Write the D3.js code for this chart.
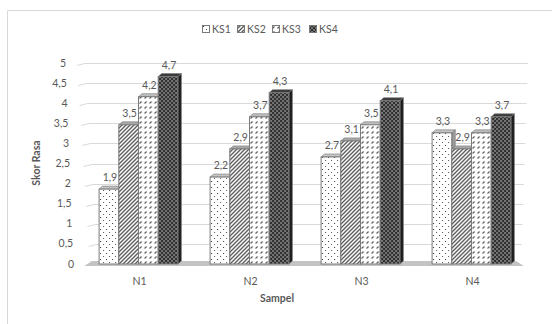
<!DOCTYPE html>
<html>
<head>
<meta charset="utf-8">
<script src="https://cdn.jsdelivr.net/npm/d3@7/dist/d3.min.js"></script>
<style>
  html, body { margin: 0; padding: 0; background: #fff; }
  svg { display: block; font-family: Lato, "Open Sans", sans-serif; }
</style>
</head>
<body>
<svg id="chart" width="552" height="324"></svg>
<script>
// Sensory scores (Skor Rasa) per sample and panel series
const categories = ["N1", "N2", "N3", "N4"];
const seriesNames = ["KS1", "KS2", "KS3", "KS4"];
const ks1 = [1.9, 2.2, 2.7, 3.3];
const ks2 = [3.5, 2.9, 3.1, 2.9];
const ks3 = [4.2, 3.7, 3.5, 3.3];
const ks4 = [4.7, 4.3, 4.1, 3.7];
const yTicks = [0, 0.5, 1, 1.5, 2, 2.5, 3, 3.5, 4, 4.5, 5];

const seriesValues = [ks1, ks2, ks3, ks4];
const rows = categories.map((c, i) => ({
  cat: c,
  values: seriesNames.map((s, j) => ({ key: s, idx: j, value: seriesValues[j][i] }))
}));

const svg = d3.select("#chart");
const fmt = d3.formatLocale({ decimal: ",", thousands: ".", grouping: [3], currency: ["", ""] }).format("~g");

const x0 = d3.scaleBand().domain(categories).range([83, 527]).paddingInner(0.29).paddingOuter(0.145);
const x1 = d3.scaleBand().domain(seriesNames).range([0, x0.bandwidth()]).padding(0);
const y = d3.scaleLinear().domain([0, 5]).range([264, 63]);

// chart area frame
svg.append("path").attr("d", "M7.5,324 V10.5 H552").attr("fill", "none").attr("stroke", "#d9d9d9");

// fill patterns
const defs = svg.append("defs");
function pat(id, w, h, build) {
  const p = defs.append("pattern").attr("id", id).attr("patternUnits", "userSpaceOnUse")
    .attr("width", w).attr("height", h);
  build(p);
}
pat("p1", 6, 6, p => {
  p.append("rect").attr("width", 6).attr("height", 6).attr("fill", "#fff");
  p.append("rect").attr("x", 1).attr("y", 1).attr("width", 1).attr("height", 1).attr("fill", "#333");
  p.append("rect").attr("x", 4).attr("y", 4).attr("width", 1).attr("height", 1).attr("fill", "#555");
});
pat("p2", 4, 4, p => {
  p.append("rect").attr("width", 4).attr("height", 4).attr("fill", "#fff");
  p.append("path").attr("d", "M-1,1 L1,-1 M0,4 L4,0 M3,5 L5,3").attr("stroke", "#555").attr("stroke-width", 1.3);
});
pat("p3", 5, 5, p => {
  p.append("rect").attr("width", 5).attr("height", 5).attr("fill", "#fff");
  p.append("path").attr("d", "M0.5,3.5 L2.5,1.5").attr("stroke", "#555").attr("stroke-width", 1.1);
});
pat("p4", 4, 4, p => {
  p.append("rect").attr("width", 4).attr("height", 4).attr("fill", "#2e2e2e");
  p.append("circle").attr("cx", 1).attr("cy", 1).attr("r", 0.9).attr("fill", "#9a9a9a");
  p.append("circle").attr("cx", 3).attr("cy", 3).attr("r", 0.9).attr("fill", "#9a9a9a");
});
const fills = ["url(#p1)", "url(#p2)", "url(#p3)", "url(#p4)"];
const topFills = ["#c4c4c4", "#a8a8a8", "#bdbdbd", "#3a3a3a"];
const sideFills = ["#9a9a9a", "#8a8a8a", "#999", "#1e1e1e"];

// gridlines with slanted side-wall piece
const grid = svg.append("g");
yTicks.filter(v => v > 0).forEach(v => {
  const t = v / 5;
  const xl = 90 - 13 * t, xr = 521 + 7 * t, yy = Math.round(y(v)) + 0.5;
  grid.append("path")
    .attr("d", `M${xl},${yy + 2} L${xl + 8},${yy} L${xr},${yy}`)
    .attr("fill", "none").attr("stroke", "#d9d9d9").attr("stroke-width", 1);
});

// floor
svg.append("polygon").attr("points", "84,266 92,261 516,261 524,266").attr("fill", "#c4c4c4");

// y tick labels
svg.append("g").selectAll("text").data(yTicks).join("text")
  .attr("x", v => 74 - 8 * (v / 5))
  .attr("y", v => y(v) + 3.5)
  .attr("text-anchor", "end")
  .attr("font-size", 10.5).attr("fill", "#595959")
  .text(v => fmt(v));

// 3D bars
const dx = 3.5, dy = -3;
const groups = svg.append("g").selectAll("g").data(rows).join("g")
  .attr("transform", d => `translate(${x0(d.cat)},0)`);
groups.each(function (row) {
  const g = d3.select(this);
  row.values.forEach(d => {
    const xa = x1(d.key), w = x1.bandwidth();
    const yt = y(d.value) + 1.5, yb = y(0);
    g.append("polygon")
      .attr("points", `${xa + w},${yt} ${xa + w + dx},${yt + dy} ${xa + w + dx},${yb + dy} ${xa + w},${yb}`)
      .attr("fill", sideFills[d.idx]).attr("stroke", "#777").attr("stroke-width", 0.6);
    g.append("polygon")
      .attr("points", `${xa},${yt} ${xa + dx},${yt + dy} ${xa + w + dx},${yt + dy} ${xa + w},${yt}`)
      .attr("fill", topFills[d.idx]).attr("stroke", "#777").attr("stroke-width", 0.6);
    g.append("rect")
      .attr("x", xa).attr("y", yt).attr("width", w).attr("height", yb - yt)
      .attr("fill", fills[d.idx]).attr("stroke", "#7a7a7a").attr("stroke-width", 1);
    g.append("text")
      .attr("x", xa + w / 2 + 1).attr("y", y(d.value) - 6.5)
      .attr("text-anchor", "middle").attr("font-size", 10.5).attr("fill", "#595959")
      .text(fmt(d.value));
  });
});

// category labels
svg.append("g").selectAll("text").data(categories).join("text")
  .attr("x", c => x0(c) + x0.bandwidth() / 2 + 1)
  .attr("y", 285)
  .attr("text-anchor", "middle").attr("font-size", 10.5).attr("fill", "#595959")
  .text(c => c);

// axis titles
svg.append("text").attr("x", 277).attr("y", 302).attr("text-anchor", "middle")
  .attr("font-size", 10.5).attr("font-weight", "bold").attr("fill", "#595959").text("Sampel");
svg.append("text").attr("transform", "translate(40,163) rotate(-90)").attr("text-anchor", "middle")
  .attr("font-size", 10.5).attr("font-weight", "bold").attr("fill", "#595959").text("Skor Rasa");

// legend
const legendX = [202, 237, 272, 309];
const lg = svg.append("g").selectAll("g").data(seriesNames).join("g")
  .attr("transform", (d, i) => `translate(${legendX[i]},25)`);
lg.append("rect").attr("x", 0.5).attr("y", 0.5).attr("width", 7).attr("height", 7)
  .attr("fill", (d, i) => fills[i]).attr("stroke", "#7a7a7a").attr("stroke-width", 1);
lg.append("text").attr("x", 10).attr("y", 8).attr("font-size", 10.5).attr("fill", "#595959").text(d => d);
</script>
</body>
</html>
